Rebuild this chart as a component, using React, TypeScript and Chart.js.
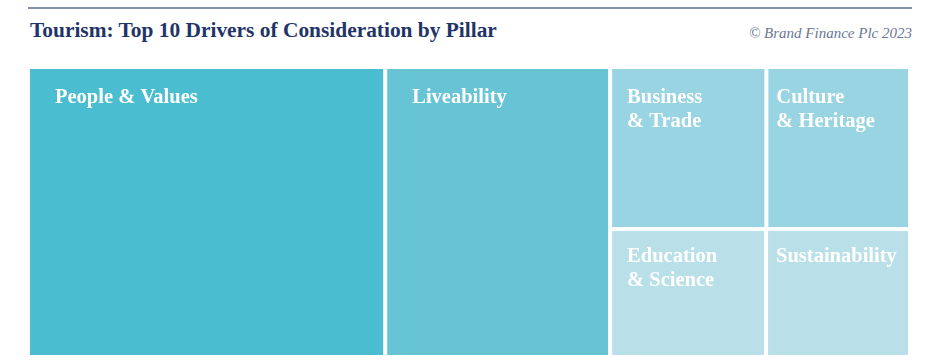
import React, { useEffect, useRef } from "react";
import { Chart, registerables } from "chart.js";

Chart.register(...registerables);

// ---- data ----
const TITLE = "Tourism: Top 10 Drivers of Consideration by Pillar";
const SOURCE = "© Brand Finance Plc 2023";
const categories = [
  "People & Values",
  "Liveability",
  "Business & Trade",
  "Culture & Heritage",
  "Education & Science",
  "Sustainability",
];
const shares = [40.5, 25.5, 9.9, 9.1, 7.8, 7.2];

// ---- style ----
const cellColors = ["#4bbdd0", "#66c4d5", "#99d4e2", "#99d4e2", "#b9e0e8", "#b9e0e8"];
const labelPadX = [25, 25, 15, 8, 15, 8];
const labelPadY = [34, 34, 34, 34, 31, 31];
const GAP = 4;
const LABEL_FONT = "bold 20.5px 'Liberation Serif', serif";

type Rect = { x0: number; x1: number; y0: number; y1: number };

// Layout: two full-height columns, then a 2x2 block (rows [2,3] and [4,5])
function layout(values: number[]): Rect[] {
  const total = values.reduce((a, b) => a + b, 0);
  const rects: Rect[] = [];
  let x = 0;
  for (let i = 0; i < 2; i++) {
    const w = (values[i] / total) * 100;
    rects[i] = { x0: x, x1: x + w, y0: 0, y1: 100 };
    x += w;
  }
  const rows = [
    [2, 3],
    [4, 5],
  ];
  const restSum = rows.flat().reduce((a, i) => a + values[i], 0);
  const groupW = (restSum / total) * 100;
  let y = 0;
  for (const row of rows) {
    const rowSum = row.reduce((a, i) => a + values[i], 0);
    const h = (rowSum / restSum) * 100;
    let cx = x;
    for (const i of row) {
      const w = (values[i] / rowSum) * groupW;
      rects[i] = { x0: cx, x1: cx + w, y0: y, y1: y + h };
      cx += w;
    }
    y += h;
  }
  return rects;
}

const rects = layout(shares);

const treemapPlugin = {
  id: "treemapCells",
  afterDatasetsDraw(chart: any) {
    const { ctx, scales } = chart;
    const xs = scales.x;
    const ys = scales.y;
    ctx.save();
    rects.forEach((r, i) => {
      const left = xs.getPixelForValue(r.x0) + GAP / 2;
      const right = xs.getPixelForValue(r.x1) - GAP / 2;
      const top = ys.getPixelForValue(r.y0) + GAP / 2;
      const bottom = ys.getPixelForValue(r.y1) - GAP / 2;
      ctx.fillStyle = cellColors[i];
      ctx.fillRect(left, top, right - left, bottom - top);

      ctx.font = LABEL_FONT;
      ctx.fillStyle = "#ffffff";
      ctx.textAlign = "left";
      ctx.textBaseline = "alphabetic";
      const pad = labelPadX[i];
      const text = categories[i];
      let lines = [text];
      if (ctx.measureText(text).width > right - left - 2 * pad && text.includes(" & ")) {
        const k = text.indexOf(" & ");
        lines = [text.slice(0, k), text.slice(k + 1)];
      }
      lines.forEach((ln, j) => {
        ctx.fillText(ln, left + pad, top + labelPadY[i] + j * 24);
      });
    });
    ctx.restore();
  },
};

export default function App() {
  const canvasRef = useRef<HTMLCanvasElement | null>(null);

  useEffect(() => {
    document.body.style.margin = "0";
    const canvas = canvasRef.current!;
    const chart = new Chart(canvas, {
      type: "scatter",
      data: {
        datasets: [
          {
            label: "Share",
            data: rects.map((r) => ({ x: (r.x0 + r.x1) / 2, y: (r.y0 + r.y1) / 2 })),
            pointRadius: 0,
            pointHoverRadius: 0,
          },
        ],
      },
      options: {
        animation: false,
        responsive: false,
        maintainAspectRatio: false,
        devicePixelRatio: 1,
        layout: { padding: { left: 28, right: 30, top: 67, bottom: 7 } },
        scales: {
          x: { type: "linear", min: 0, max: 100, display: false },
          y: { type: "linear", min: 0, max: 100, reverse: true, display: false },
        },
        plugins: {
          legend: { display: false },
          tooltip: { enabled: false },
        },
      },
      plugins: [treemapPlugin],
    });
    return () => chart.destroy();
  }, []);

  return (
    <div
      style={{
        position: "fixed",
        left: 0,
        top: 0,
        width: 940,
        height: 364,
        background: "#ffffff",
        overflow: "hidden",
      }}
    >
      <div
        style={{
          position: "absolute",
          left: 28,
          top: 7,
          width: 884,
          height: 0,
          borderTop: "2px solid #8591b0",
        }}
      />
      <div
        style={{
          position: "absolute",
          left: 30,
          top: 20,
          fontFamily: "'Liberation Serif', serif",
          fontWeight: "bold",
          fontSize: 21.4,
          lineHeight: "21.4px",
          color: "#1f3569",
          whiteSpace: "nowrap",
        }}
      >
        {TITLE}
      </div>
      <div
        style={{
          position: "absolute",
          right: 28,
          top: 26,
          fontFamily: "'Liberation Serif', serif",
          fontStyle: "italic",
          fontSize: 15,
          lineHeight: "15px",
          color: "#6b7794",
          whiteSpace: "nowrap",
        }}
      >
        {SOURCE}
      </div>
      <canvas
        ref={canvasRef}
        width={940}
        height={364}
        style={{ position: "absolute", left: 0, top: 0, width: 940, height: 364 }}
      />
    </div>
  );
}
